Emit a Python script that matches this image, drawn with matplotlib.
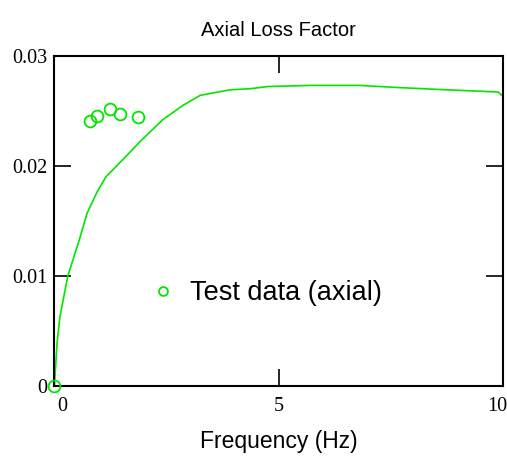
import matplotlib.pyplot as plt
import matplotlib.transforms as mtransforms

# model curve (frequency in Hz, loss factor)
freq = [0.0, 0.06, 0.12, 0.30, 0.55, 0.73, 0.95, 1.15, 1.69, 1.91, 2.42, 2.87,
        3.25, 3.91, 4.36, 4.76, 5.70, 6.81, 7.70, 8.75, 9.89, 10.0]
loss = [0.0, 0.0039, 0.0062, 0.0100, 0.0132, 0.0157, 0.0176, 0.0190, 0.02125,
        0.0222, 0.0242, 0.0255, 0.0264, 0.0269, 0.0270, 0.0272, 0.0273, 0.0273,
        0.0271, 0.0269, 0.0267, 0.0263]

# test data
test_freq = [0.0, 0.79, 0.95, 1.24, 1.46, 1.86]
test_loss = [0.0, 0.0241, 0.0245, 0.0252, 0.0247, 0.0244]

green = '#00e600'

fig = plt.figure(figsize=(5.07, 4.62), dpi=100)
ax = fig.add_axes([0.1073, 0.165, 0.8849, 0.7144])

ax.plot(freq, loss, color=green, lw=1.2)
ax.plot(test_freq, test_loss, 'o', mfc='none', mec=green, ms=8.5, mew=1.3,
        clip_on=False, label='Test data (axial)', zorder=5)

ax.set_xlim(0, 10)
ax.set_ylim(0, 0.03)
ax.set_xticks([0, 5, 10])
ax.set_yticks([0, 0.01, 0.02, 0.03])
ax.set_xticklabels(['0', '5', '10'], family='Liberation Serif', fontsize=14.5)
ax.set_yticklabels(['0', '0.01', '0.02', '0.03'], family='Liberation Serif', fontsize=14.5)
ax.tick_params(direction='in', length=12, width=1.2, top=True, right=True)
ax.tick_params(axis='x', pad=8)
ax.tick_params(axis='y', pad=5)
for s in ax.spines.values():
    s.set_linewidth(1.5)

# nudge the end labels like the original
xl = ax.get_xticklabels()
xl[0].set_transform(xl[0].get_transform() + mtransforms.ScaledTranslation(0.08, 0, fig.dpi_scale_trans))
xl[2].set_transform(xl[2].get_transform() + mtransforms.ScaledTranslation(-0.06, 0, fig.dpi_scale_trans))

ax.set_title('Axial Loss Factor', family='Liberation Sans', fontsize=14.5, pad=14)
ax.set_xlabel('Frequency (Hz)', family='Liberation Sans', fontsize=16.5, labelpad=10)

ax.legend(loc='center left', bbox_to_anchor=(0.212, 0.281), frameon=False,
          prop={'family': 'Liberation Sans', 'size': 19.5}, handlelength=1.0,
          handletextpad=0.5, borderpad=0, borderaxespad=0, markerscale=0.75)

fig.savefig('out.png', dpi=100)
